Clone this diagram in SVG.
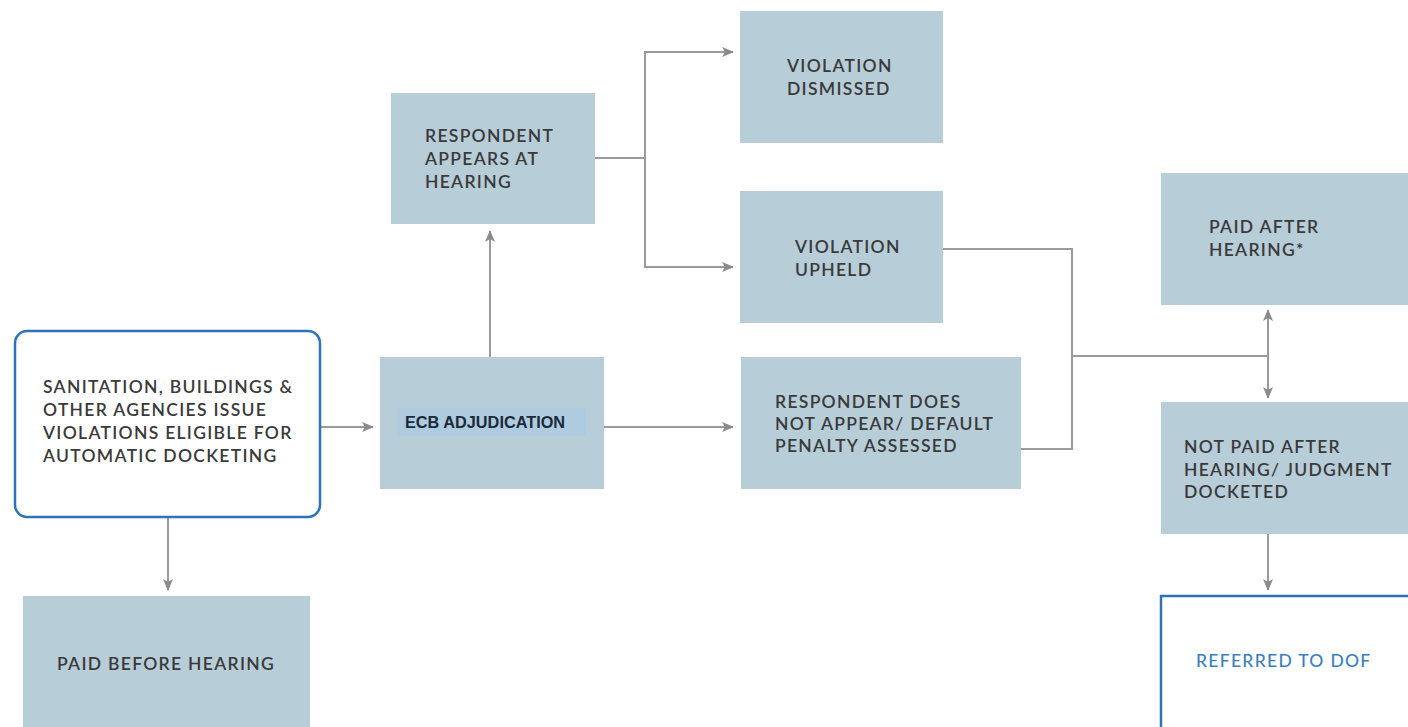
<svg xmlns="http://www.w3.org/2000/svg" width="1408" height="727" viewBox="0 0 1408 727">
<style>
.box{fill:#b7cdd8}
.t{font-family:Lato,"Open Sans",sans-serif;font-size:17.5px;fill:#3a3a3a;font-weight:600;letter-spacing:1.3px}
.c{fill:none;stroke:#9a9a9a;stroke-width:2}
</style>
<defs>
<marker id="a" viewBox="0 0 12 10" refX="11" refY="5" markerWidth="12" markerHeight="10" markerUnits="userSpaceOnUse" orient="auto">
<path d="M0,0 L12,5 L0,10 L3,5 z" fill="#8a8a8a"/>
</marker>
</defs>
<rect width="1408" height="727" fill="#fff"/>
<g id="connectors">
<line class="c" x1="320" y1="427" x2="373" y2="427" marker-end="url(#a)"/>
<line class="c" x1="168" y1="518" x2="168" y2="590" marker-end="url(#a)"/>
<line class="c" x1="490" y1="357" x2="490" y2="231" marker-end="url(#a)"/>
<line class="c" x1="604" y1="427" x2="733" y2="427" marker-end="url(#a)"/>
<polyline class="c" points="595,158 645,158"/>
<polyline class="c" points="733,52 645,52 645,267 733,267" marker-end="url(#a)"/>
<line class="c" x1="645" y1="52" x2="733" y2="52" marker-end="url(#a)"/>
<polyline class="c" points="943,249 1072,249 1072,449 1021,449"/>
<line class="c" x1="1072" y1="356" x2="1268" y2="356"/>
<line class="c" x1="1268" y1="356" x2="1268" y2="310" marker-end="url(#a)"/>
<line class="c" x1="1268" y1="356" x2="1268" y2="398" marker-end="url(#a)"/>
<line class="c" x1="1268" y1="534" x2="1268" y2="590" marker-end="url(#a)"/>
</g>
<g id="source">
<rect x="15" y="331" width="305" height="186" rx="12" fill="#fff" stroke="#2e72b8" stroke-width="2.5"/>
<text class="t" x="43" y="393">SANITATION, BUILDINGS &amp;</text>
<text class="t" x="43" y="416">OTHER AGENCIES ISSUE</text>
<text class="t" x="43" y="439">VIOLATIONS ELIGIBLE FOR</text>
<text class="t" x="43" y="462">AUTOMATIC DOCKETING</text>
</g>
<g id="paid-before">
<rect class="box" x="23" y="596" width="287" height="131"/>
<text class="t" x="57" y="670">PAID BEFORE HEARING</text>
</g>
<g id="ecb">
<rect class="box" x="380" y="357" width="224" height="132"/>
<rect x="397" y="408" width="189" height="28" fill="#aecbe0"/>
<text x="405" y="428" style="font-family:'Liberation Sans',Arial,sans-serif;font-size:16.3px;font-weight:bold;fill:#1c2a38">ECB ADJUDICATION</text>
</g>
<g id="appears">
<rect class="box" x="391" y="93" width="204" height="131"/>
<text class="t" x="425" y="142">RESPONDENT</text>
<text class="t" x="425" y="165">APPEARS AT</text>
<text class="t" x="425" y="188">HEARING</text>
</g>
<g id="dismissed">
<rect class="box" x="740" y="11" width="203" height="132"/>
<text class="t" x="787" y="72">VIOLATION</text>
<text class="t" x="787" y="95">DISMISSED</text>
</g>
<g id="upheld">
<rect class="box" x="740" y="191" width="203" height="132"/>
<text class="t" x="795" y="253">VIOLATION</text>
<text class="t" x="795" y="276">UPHELD</text>
</g>
<g id="not-appear">
<rect class="box" x="741" y="357" width="280" height="132"/>
<text class="t" x="775" y="408">RESPONDENT DOES</text>
<text class="t" x="775" y="430">NOT APPEAR/ DEFAULT</text>
<text class="t" x="775" y="452">PENALTY ASSESSED</text>
</g>
<g id="paid-after">
<rect class="box" x="1161" y="173" width="247" height="132"/>
<text class="t" x="1209" y="233">PAID AFTER</text>
<text class="t" x="1209" y="256">HEARING*</text>
</g>
<g id="not-paid">
<rect class="box" x="1161" y="402" width="247" height="132"/>
<text class="t" x="1184" y="453">NOT PAID AFTER</text>
<text class="t" x="1184" y="476">HEARING/ JUDGMENT</text>
<text class="t" x="1184" y="498">DOCKETED</text>
</g>
<g id="dof">
<rect x="1161" y="596" width="252" height="135" fill="#fff" stroke="#2e72b8" stroke-width="2.5"/>
<text class="t" x="1196" y="667" style="fill:#3b7fc0;font-weight:500">REFERRED TO DOF</text>
</g>
</svg>
